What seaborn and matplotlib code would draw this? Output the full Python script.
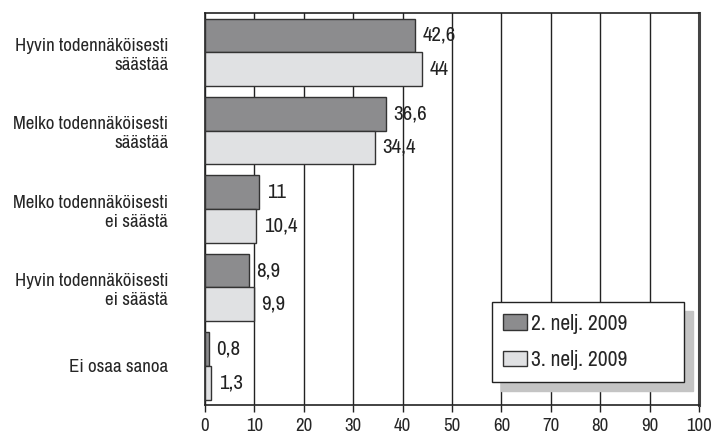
import pandas as pd
import matplotlib.pyplot as plt
from matplotlib import font_manager
import seaborn as sns

# Data
categories = ['Hyvin todennäköisesti\nsäästää', 'Melko todennäköisesti\nsäästää',
              'Melko todennäköisesti\nei säästä', 'Hyvin todennäköisesti\nei säästä',
              'Ei osaa sanoa']
series = ['2. nelj. 2009', '3. nelj. 2009']
q2_values = [42.6, 36.6, 11, 8.9, 0.8]
q3_values = [44, 34.4, 10.4, 9.9, 1.3]

df = pd.DataFrame({
    'kategoria': categories * 2,
    'jakso': [series[0]] * len(categories) + [series[1]] * len(categories),
    'arvo': q2_values + q3_values,
})

sns.set_style('white')

# condensed font if one is available, otherwise Roboto
names = sorted({f.name for f in font_manager.fontManager.ttflist})
narrow = [n for n in names if 'Narrow' in n or 'Condensed' in n]
fam = narrow[0] if narrow else 'Roboto'
plt.rcParams['font.family'] = [fam, 'DejaVu Sans']
plt.rcParams['font.weight'] = 'light'
sz = 1.0 if narrow else 0.85

fig = plt.figure(figsize=(7.14, 4.36), dpi=100)
ax = fig.add_axes([0.2871, 0.0711, 0.6919, 0.899])

sns.barplot(data=df, y='kategoria', x='arvo', hue='jakso', orient='h',
            palette=['#8c8c8e', '#e0e1e3'], width=0.86, edgecolor='#333333',
            linewidth=1, ax=ax, zorder=3)

# value labels with decimal comma
for cont in ax.containers:
    labels = [f'{v:g}'.replace('.', ',') for v in cont.datavalues]
    ax.bar_label(cont, labels=labels, padding=5.5, fontsize=15 * sz, color='#222222')

ax.set_xlim(0, 100)
ax.set_xticks(range(0, 101, 10))
ax.xaxis.grid(True, color='#222222', linewidth=1, zorder=0)
ax.set_axisbelow(True)
ax.set_xlabel('')
ax.set_ylabel('')
ax.tick_params(axis='x', bottom=True, length=5, width=1, color='#222222',
               labelsize=13.5 * sz, pad=4)
ax.tick_params(axis='y', left=False, labelsize=13.6 * sz, pad=23)
for lab in ax.get_yticklabels():
    lab.set_multialignment('right')
    lab.set_linespacing(1.25)
for s in ax.spines.values():
    s.set_visible(True)
    s.set_color('#222222')
    s.set_linewidth(1.2)
ax.spines['right'].set_linewidth(2.2)
ax.spines['right'].set_color('#444444')

leg = ax.legend(loc='lower left', bbox_to_anchor=(0.580, 0.059, 0.390, 0.2),
                mode='expand', fancybox=False, frameon=True, fontsize=15.5 * sz,
                handlelength=1.1, handleheight=0.75, handletextpad=0.2,
                labelspacing=0.75, borderpad=0.55, borderaxespad=0,
                shadow={'ox': 6.5, 'oy': -6.5, 'color': '#c4c4c4', 'alpha': 1})
leg.get_frame().set_edgecolor('#222222')
leg.get_frame().set_linewidth(1)
leg.get_frame().set_facecolor('white')
leg.get_frame().set_alpha(1)
for h in leg.legend_handles:
    h.set_edgecolor('#333333')

fig.savefig('out.png', dpi=100)
